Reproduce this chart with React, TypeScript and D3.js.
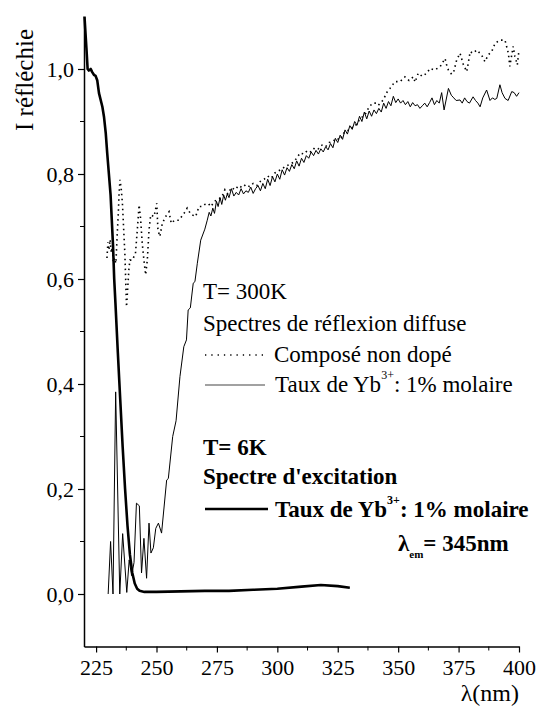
import { useEffect, useRef } from 'react';
import * as d3 from 'd3';

// wavelength (nm), reflected intensity
const undoped: [number, number][] = [
  [229.5, 0.64], [229.9, 0.67], [230.3, 0.655], [230.8, 0.675], [231.3, 0.65], [231.7, 0.66],
  [232.1, 0.632], [232.6, 0.64], [233.2, 0.63], [233.8, 0.69], [234.2, 0.725], [234.5, 0.762],
  [234.9, 0.789], [235.4, 0.772], [235.9, 0.744], [236.3, 0.706], [236.9, 0.649], [237.6, 0.547],
  [238.6, 0.62], [239, 0.636], [240, 0.636], [241.3, 0.649], [242, 0.69], [242.8, 0.741],
  [243.4, 0.716], [244.1, 0.668], [244.8, 0.636], [245.5, 0.608], [246.2, 0.636], [246.9, 0.693],
  [247.6, 0.722], [249, 0.719], [250.1, 0.744], [250.6, 0.693], [251.4, 0.681], [252.4, 0.706],
  [253.8, 0.719], [255.2, 0.728], [256.1, 0.706], [257.5, 0.712], [259.3, 0.712], [261.4, 0.725],
  [262.7, 0.735], [264, 0.725], [264.8, 0.722], [266.2, 0.719], [267.6, 0.738], [268.9, 0.738],
  [270, 0.742], [271.4, 0.744], [272.5, 0.738], [274, 0.748], [275.5, 0.752], [277, 0.756],
  [278.3, 0.77], [279.5, 0.762], [281, 0.774], [282.5, 0.77], [284, 0.778], [285.5, 0.774],
  [287, 0.78], [288.5, 0.776], [290, 0.782], [291.5, 0.778], [293, 0.786], [294.5, 0.79],
  [296, 0.796], [297.5, 0.792], [299, 0.802], [300.5, 0.806], [302, 0.81], [303.5, 0.815],
  [305, 0.818], [306.5, 0.822], [308, 0.83], [309.4, 0.84], [311, 0.838], [312.5, 0.845],
  [314, 0.842], [315.5, 0.85], [317, 0.848], [318.5, 0.855], [320, 0.852], [321.5, 0.86],
  [323, 0.862], [324.5, 0.868], [326, 0.865], [327.5, 0.878], [329, 0.882], [330.5, 0.888],
  [332, 0.89], [333.5, 0.9], [335, 0.908], [336.5, 0.915], [338, 0.928], [339.5, 0.935],
  [341, 0.935], [341.8, 0.931], [343.8, 0.941], [345.5, 0.957], [346.6, 0.963], [348.7, 0.976],
  [350.8, 0.976], [352.8, 0.985], [354.5, 0.978], [356.3, 0.985], [357, 0.975], [358.3, 0.992],
  [360, 0.986], [361.8, 0.992], [363.2, 1.001], [365, 0.998], [367.3, 1.004], [369.4, 1.02],
  [370.2, 1.005], [370.8, 0.998], [372.1, 0.99], [373, 0.995], [374.2, 1.017], [375.6, 1.03],
  [377, 1.008], [378.4, 0.995], [379.8, 1.033], [381, 1.03], [382.5, 1.036], [384.5, 1.027],
  [385.9, 1.014], [387.3, 1.027], [388.7, 1.033], [390.1, 1.049], [392.1, 1.055], [394.2, 1.055],
  [395.6, 1.03], [396.2, 1.005], [397.6, 1.043], [398.3, 1.024], [399.3, 1.008], [400, 1.036],
];

const doped: [number, number][] = [
  [230, 0], [231, 0.1], [232, 0], [233.1, 0.385], [234.8, 0], [236, 0.115], [237.7, 0.003],
  [238.7, 0.065], [239.7, 0.035], [240.7, 0.06], [241.7, 0.173], [242.9, 0.168], [243.8, 0.04],
  [244.8, 0.106], [245.9, 0.03], [246.9, 0.135], [247.7, 0.078], [248.7, 0.088], [249.7, 0.125],
  [250.8, 0.135], [252.1, 0.116], [254.2, 0.217], [254.9, 0.22], [256.7, 0.3], [258.1, 0.33],
  [259.7, 0.414], [261.3, 0.471], [262.4, 0.484], [263.1, 0.541], [264, 0.545], [265.2, 0.592],
  [265.9, 0.595], [266.9, 0.63], [268.3, 0.674], [270, 0.695], [271, 0.712], [271.8, 0.727],
  [272.5, 0.72], [273.3, 0.735], [274, 0.725], [274.8, 0.748], [275.5, 0.738], [276.3, 0.755],
  [277, 0.742], [277.8, 0.76], [278.5, 0.75], [279.3, 0.762], [280, 0.755], [281, 0.772],
  [282, 0.758], [283, 0.765], [284, 0.76], [285, 0.772], [286, 0.762], [287, 0.768],
  [288, 0.765], [289, 0.775], [290, 0.763], [291, 0.772], [292, 0.778], [293, 0.768],
  [294, 0.782], [295, 0.772], [296, 0.79], [297, 0.778], [298, 0.795], [299, 0.785],
  [300, 0.8], [301, 0.79], [302, 0.808], [303, 0.798], [304, 0.812], [305, 0.805],
  [306, 0.818], [307, 0.81], [308, 0.825], [309, 0.815], [310, 0.83], [311, 0.822],
  [312, 0.835], [313, 0.83], [314, 0.842], [315, 0.835], [316, 0.845], [317, 0.838],
  [318, 0.848], [319, 0.842], [320, 0.852], [321, 0.846], [322, 0.858], [323, 0.85],
  [324, 0.868], [325, 0.86], [326, 0.874], [327, 0.866], [328, 0.884], [329, 0.876],
  [330, 0.892], [331, 0.885], [332, 0.9], [333, 0.893], [334, 0.91], [335, 0.9],
  [336, 0.918], [337, 0.905], [338, 0.92], [339, 0.91], [340, 0.922], [341, 0.915],
  [342, 0.925], [343, 0.918], [344, 0.935], [345, 0.925], [346, 0.938], [347, 0.93],
  [348, 0.948], [349, 0.936], [350, 0.943], [351, 0.935], [352, 0.94], [353, 0.932],
  [354, 0.938], [355, 0.928], [356, 0.936], [357, 0.93], [358, 0.932], [359, 0.925],
  [360, 0.93], [361, 0.935], [362, 0.928], [363, 0.936], [364, 0.945], [365, 0.932],
  [366, 0.94], [367, 0.935], [368, 0.955], [369, 0.922], [370.8, 0.963], [372, 0.95],
  [373, 0.945], [374, 0.94], [375.6, 0.941], [376.5, 0.935], [377.5, 0.945], [378.5, 0.938],
  [379.5, 0.935], [381, 0.947], [382, 0.94], [383, 0.935], [383.9, 0.928], [385, 0.945],
  [386.6, 0.96], [388, 0.94], [389, 0.945], [390, 0.942], [390.8, 0.944], [392.1, 0.97],
  [393, 0.955], [394.2, 0.944], [395.5, 0.94], [397, 0.957], [398, 0.955], [399, 0.948],
  [400, 0.955],
];

const excitation: [number, number][] = [
  [220.2, 1.1], [221, 1.04], [221.5, 1.0], [222, 0.997], [222.8, 1.0], [223.4, 0.994],
  [224.1, 0.989], [224.8, 0.987], [225.5, 0.978], [226.2, 0.954], [227.6, 0.928], [228.3, 0.908],
  [229, 0.878], [229.6, 0.84], [230.3, 0.8], [231, 0.76], [232, 0.665], [232.5, 0.6],
  [233, 0.555], [234, 0.46], [235, 0.37], [236, 0.28], [237, 0.2], [238, 0.13], [239, 0.075],
  [240, 0.04], [241, 0.02], [242, 0.01], [243, 0.006], [245, 0.004], [250, 0.004], [260, 0.005],
  [270, 0.006], [280, 0.006], [290, 0.008], [300, 0.01], [310, 0.014], [318, 0.017],
  [325, 0.015], [330, 0.012],
];

const xTicks = [225, 250, 275, 300, 325, 350, 375, 400];
const yTicks = [0, 0.2, 0.4, 0.6, 0.8, 1.0];

const serif = "'Liberation Serif', serif";

export default function App() {
  const ref = useRef<SVGSVGElement>(null);

  useEffect(() => {
    if (!ref.current) return;
    const svg = d3.select(ref.current);
    svg.selectAll('*').remove();

    const x = d3.scaleLinear().domain([220, 400]).range([84, 519]);
    const y = d3.scaleLinear().domain([-0.1, 1.1]).range([646.5, 16.5]);
    const fmt = (v: number) => d3.format('.1f')(v).replace('.', ',');

    const g = svg.append('g').attr('fill', '#000');

    // axes
    const xAxis = g.append('g').attr('transform', `translate(0,${y(-0.1)})`);
    xAxis.call(
      d3.axisBottom(x).tickValues(xTicks).tickSize(6).tickSizeOuter(0).tickFormat(d => String(d))
    );
    xAxis.attr('font-size', 22);
    xAxis.selectAll('.tick line').attr('stroke-width', 1.2);
    xAxis.selectAll('.tick text').attr('y', 9).attr('dy', '0.88em');
    xAxis.select('.domain').attr('stroke-width', 1.5);
    xAxis.selectAll('.minor')
      .data(d3.range(237.5, 400, 25))
      .join('line')
      .attr('x1', d => x(d)).attr('x2', d => x(d))
      .attr('y1', 0).attr('y2', 4)
      .attr('stroke', '#000');

    const yAxis = g.append('g').attr('transform', `translate(${x(220)},0)`);
    yAxis.call(
      d3.axisLeft(y).tickValues(yTicks).tickSize(6).tickSizeOuter(0).tickFormat(d => fmt(+d))
    );
    yAxis.attr('font-size', 22);
    yAxis.selectAll('.tick line').attr('stroke-width', 1.2);
    yAxis.selectAll('.tick text').attr('x', -10).attr('dy', '0.36em');
    yAxis.select('.domain').attr('stroke-width', 1.5);
    yAxis.selectAll('.minor')
      .data([0.1, 0.3, 0.5, 0.7, 0.9])
      .join('line')
      .attr('y1', d => y(d)).attr('y2', d => y(d))
      .attr('x1', 0).attr('x2', -4)
      .attr('stroke', '#000');

    // axis titles
    g.append('text')
      .attr('transform', `translate(33,80) rotate(-90)`)
      .attr('text-anchor', 'middle')
      .attr('font-size', 25)
      .text('I réfléchie');
    g.append('text')
      .attr('x', 519).attr('y', 701)
      .attr('text-anchor', 'end')
      .attr('font-size', 24)
      .text('λ(nm)');

    // curves
    const line = d3.line<[number, number]>().x(d => x(d[0])).y(d => y(d[1]));
    g.append('path').datum(undoped).attr('d', line).attr('fill', 'none')
      .attr('stroke', '#000').attr('stroke-width', 1.6).attr('stroke-dasharray', '1.5,3.5');
    g.append('path').datum(doped).attr('d', line).attr('fill', 'none')
      .attr('stroke', '#000').attr('stroke-width', 1);
    g.append('path').datum(excitation).attr('d', line).attr('fill', 'none')
      .attr('stroke', '#000').attr('stroke-width', 2.6).attr('stroke-linejoin', 'round');

    // legend
    const leg = g.append('g').attr('font-size', 23);
    leg.append('text').attr('x', 203).attr('y', 299).text('T= 300K');
    leg.append('text').attr('x', 203).attr('y', 331).text('Spectres de réflexion diffuse');
    leg.append('line').attr('x1', 205).attr('x2', 264).attr('y1', 355).attr('y2', 355)
      .attr('stroke', '#000').attr('stroke-width', 1.3).attr('stroke-dasharray', '1.3,5');
    leg.append('text').attr('x', 274).attr('y', 362).text('Composé non dopé');
    leg.append('line').attr('x1', 205).attr('x2', 265).attr('y1', 385).attr('y2', 385)
      .attr('stroke', '#444').attr('stroke-width', 1.2);
    const t1 = leg.append('text').attr('x', 275).attr('y', 392);
    t1.append('tspan').text('Taux de Yb');
    t1.append('tspan').attr('font-size', 12).attr('dy', -13).text('3+');
    t1.append('tspan').attr('dy', 13).text(': 1% molaire');

    const bold = leg.append('g').attr('font-weight', 'bold');
    bold.append('text').attr('x', 203).attr('y', 455).text('T= 6K');
    bold.append('text').attr('x', 203).attr('y', 484).text("Spectre d'excitation");
    bold.append('line').attr('x1', 205).attr('x2', 268).attr('y1', 509).attr('y2', 509)
      .attr('stroke', '#000').attr('stroke-width', 2.6);
    const t2 = bold.append('text').attr('x', 275).attr('y', 517);
    t2.append('tspan').text('Taux de Yb');
    t2.append('tspan').attr('font-size', 12).attr('dy', -13).text('3+');
    t2.append('tspan').attr('dy', 13).text(': 1% molaire');
    const t3 = bold.append('text').attr('x', 398).attr('y', 551);
    t3.append('tspan').text('λ');
    t3.append('tspan').attr('font-size', 11).attr('dy', 7).text('em');
    t3.append('tspan').attr('dy', -7).text('= 345nm');

    // one font for every text, set as CSS so nothing overrides it
    svg.selectAll('text').style('font-family', serif);
  }, []);

  return (
    <svg
      ref={ref}
      width={539}
      height={709}
      style={{ position: 'absolute', left: 0, top: 0, background: '#fff' }}
    />
  );
}
